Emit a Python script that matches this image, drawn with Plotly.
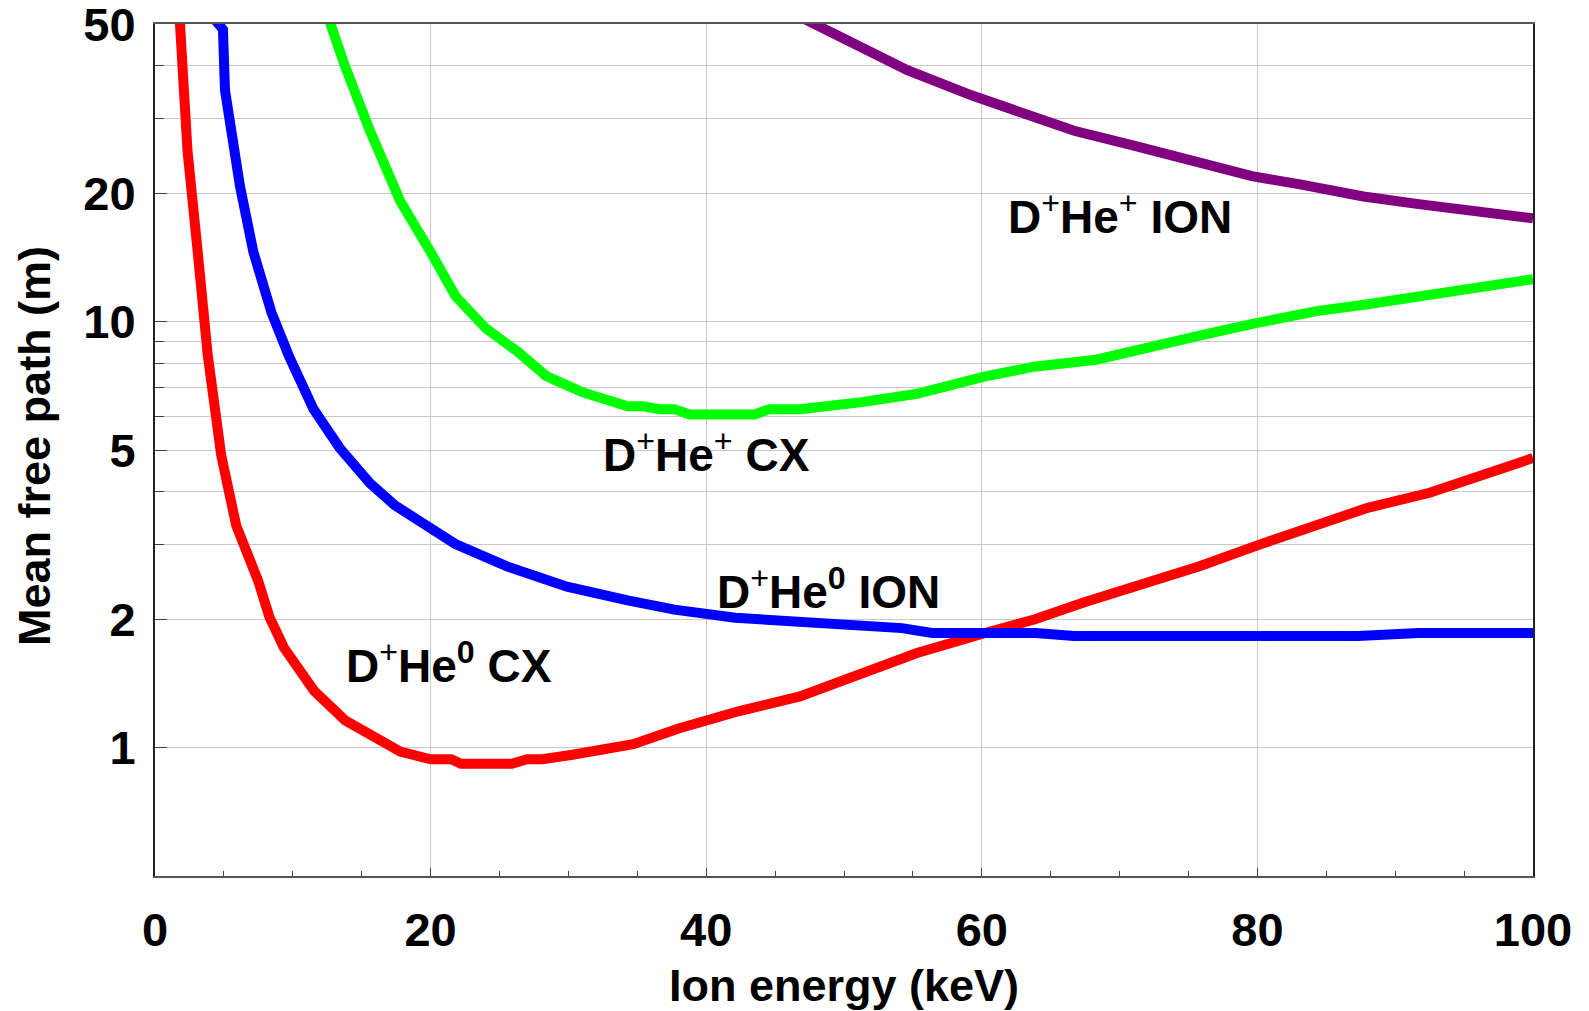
import math
import plotly.graph_objects as go

# D+He0 CX (red)
cx0_x = [1.8, 2.36, 3.1, 3.82, 4.8, 5.9, 7.5, 8.3, 9.35, 11.55, 13.8, 15.96, 17.8, 20.0, 21.5, 22.2,
         25.9, 27.0, 28.1, 30.3, 34.7, 38.0, 42.4, 46.8, 50.9, 55.3, 60.5, 63.8, 67.5, 71.9, 75.8,
         79.9, 83.6, 88.0, 92.5, 96.1, 100.0]
cx0_y = [51.0, 25.2, 14.6, 8.4, 4.87, 3.32, 2.46, 2.03, 1.72, 1.36, 1.16, 1.05, 0.98, 0.94, 0.94, 0.917,
         0.917, 0.94, 0.94, 0.963, 1.02, 1.11, 1.22, 1.32, 1.48, 1.67, 1.87, 2.0, 2.2, 2.42, 2.67,
         2.98, 3.28, 3.66, 3.97, 4.37, 4.79]

# D+He0 ION (blue)
ion0_x = [4.2, 4.93, 5.08, 6.17, 7.14, 8.46, 9.7, 11.5, 13.4, 15.6, 17.4, 20.0, 21.8, 25.5, 29.9,
          34.3, 37.7, 42.1, 47.6, 54.2, 56.4, 63.9, 66.7, 87.3, 91.7, 100.0]
ion0_y = [52.0, 48.6, 35.0, 20.8, 14.6, 10.5, 8.34, 6.24, 5.06, 4.18, 3.71, 3.27, 3.01, 2.67, 2.39,
          2.22, 2.11, 2.02, 1.96, 1.91, 1.86, 1.86, 1.83, 1.83, 1.86, 1.86]

# D+He+ CX (green)
cxp_x = [12.65, 13.76, 15.6, 17.8, 20.0, 21.8, 24.0, 26.3, 28.4, 31.0, 34.3, 35.4, 36.6, 37.7, 38.8,
         43.5, 44.6, 46.8, 51.3, 55.3, 60.1, 63.8, 68.3, 71.9, 76.2, 79.9, 84.3, 88.0, 92.5, 96.5, 100.0]
cxp_y = [51.0, 40.1, 28.1, 19.2, 14.6, 11.5, 9.66, 8.52, 7.46, 6.84, 6.34, 6.34, 6.24, 6.24, 6.06,
         6.06, 6.24, 6.24, 6.48, 6.78, 7.43, 7.85, 8.15, 8.71, 9.35, 9.93, 10.6, 11.0, 11.6, 12.2, 12.6]

# D+He+ ION (purple)
ionp_x = [47.2, 50.5, 54.6, 59.3, 62.3, 66.7, 71.1, 75.5, 79.6, 83.2, 87.7, 91.7, 95.8, 100.0]
ionp_y = [51.3, 45.5, 39.0, 34.0, 31.4, 28.1, 25.9, 23.9, 22.0, 21.0, 19.7, 18.9, 18.1, 17.5]

x_ticks = [0, 20, 40, 60, 80, 100]
y_ticks = [1, 2, 5, 10, 20, 50]
y_minor = [3, 4, 6, 7, 8, 9, 30, 40]

PLUS = "<sup><span style='font-weight:normal'>+</span></sup>"
labels = [
    ("D" + PLUS + "He" + PLUS + " ION", 70.0, 17.9),
    ("D" + PLUS + "He" + PLUS + " CX", 40.0, 4.95),
    ("D" + PLUS + "He<sup>0</sup> ION", 48.9, 2.36),
    ("D" + PLUS + "He<sup>0</sup> CX", 21.3, 1.58),
]

FONT = "Liberation Sans, Arial, sans-serif"

fig = go.Figure()
for xs, ys, col in [(cx0_x, cx0_y, "#FF0000"), (ion0_x, ion0_y, "#0000FF"),
                    (cxp_x, cxp_y, "#00FF00"), (ionp_x, ionp_y, "#800080")]:
    fig.add_trace(go.Scatter(x=xs, y=ys, mode="lines",
                             line=dict(color=col, width=10), showlegend=False))

for txt, x, y in labels:
    fig.add_annotation(x=x, y=math.log10(y), xref="x", yref="y", text="<b>" + txt + "</b>",
                       showarrow=False, font=dict(family=FONT, size=46, color="black"))

# axis titles
fig.add_annotation(x=0.5, y=-0.128, xref="paper", yref="paper",
                   text="<b>Ion energy (keV)</b>", showarrow=False,
                   xanchor="center", yanchor="middle",
                   font=dict(family=FONT, size=45, color="black"))
fig.add_annotation(x=-0.0871, y=0.5047, xref="paper", yref="paper",
                   text="<b>Mean free path (m)</b>", showarrow=False, textangle=-90,
                   xanchor="center", yanchor="middle",
                   font=dict(family=FONT, size=45, color="black"))

fig.update_layout(
    width=1589, height=1011,
    margin=dict(l=155, r=56, t=24, b=135, autoexpand=False),
    paper_bgcolor="white", plot_bgcolor="white",
    font=dict(family=FONT, size=47, color="black"),
    xaxis=dict(
        range=[0, 100], tickmode="array", tickvals=x_ticks,
        ticktext=["<b>%d</b>" % v for v in x_ticks],
        showgrid=True, gridcolor="#C8C8C8", gridwidth=1,
        ticks="inside", ticklen=8, tickcolor="#404040", tickwidth=1,
        showline=True, linecolor="#555555", linewidth=2, mirror=True,
        zeroline=False, ticklabelstandoff=12, ticklabeloverflow="allow",
        automargin=False,
        minor=dict(dtick=5, ticks="inside", ticklen=5, tickcolor="#404040", showgrid=False),
        tickfont=dict(family=FONT, size=47, color="black"),
    ),
    yaxis=dict(
        type="log", range=[-0.30103, 1.6995], tickmode="array", tickvals=y_ticks,
        ticktext=["<b>%d</b>" % v for v in y_ticks],
        showgrid=True, gridcolor="#C8C8C8", gridwidth=1,
        ticks="inside", ticklen=12, tickcolor="#404040", tickwidth=1,
        showline=True, linecolor="#222222", linewidth=2, mirror=True,
        zeroline=False, ticklabelstandoff=8, ticklabeloverflow="allow",
        automargin=False,
        minor=dict(tickvals=y_minor, ticks="inside", ticklen=9, tickcolor="#404040",
                   showgrid=True, gridcolor="#C8C8C8", gridwidth=1),
        tickfont=dict(family=FONT, size=47, color="black"),
    ),
)

fig.write_html("out.html")
